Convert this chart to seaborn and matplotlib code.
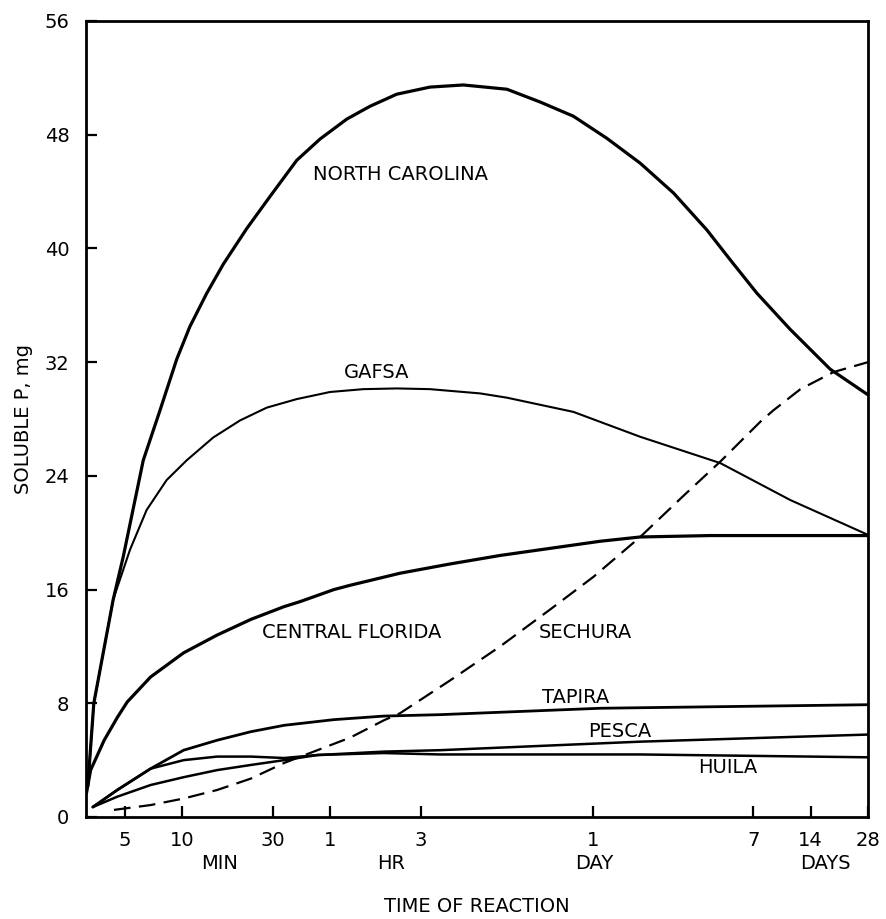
import numpy as np
import pandas as pd
import matplotlib
matplotlib.use("Agg")
import matplotlib.pyplot as plt
import matplotlib.transforms as mtransforms
import seaborn as sns

# ---- data (time in minutes, soluble P in mg) ----
t_nc = [3.2, 3.44, 4.35, 4.91, 6.26, 7.66, 9.38, 11.0, 13.5, 16.5, 21.9, 29.0, 40.1, 53.2,
        73.5, 97.3, 134.5, 201, 301, 510, 763, 1141, 1709, 2559, 3830, 5737, 7610, 10510,
        15740, 25540, 40320]
nc = [2.2, 8.0, 15.3, 18.3, 25.1, 28.6, 32.2, 34.5, 36.85, 38.9, 41.4, 43.65, 46.2, 47.7,
      49.1, 50.0, 50.85, 51.35, 51.5, 51.2, 50.3, 49.3, 47.75, 46.0, 43.9, 41.3, 39.2, 36.85,
      34.3, 31.5, 29.7]

t_gafsa = [3.2, 3.44, 4.35, 5.33, 6.52, 8.3, 10.6, 14.6, 20.2, 27.9, 40.1, 60, 89.8, 134.5,
           201, 369, 510, 1141, 2559, 6745, 15740, 40320]
gafsa = [2.2, 8.0, 15.3, 18.8, 21.6, 23.7, 25.1, 26.7, 27.9, 28.8, 29.4, 29.9, 30.1, 30.15,
         30.1, 29.8, 29.5, 28.5, 26.75, 24.9, 22.3, 19.85]

t_cf = [3.15, 3.31, 3.9, 4.57, 5.16, 6.84, 10.2, 15.3, 23.0, 34.4, 41.7, 62.9, 76.4, 140,
        256, 470, 861, 1580, 2560, 6000, 40320]
cf = [1.7, 3.3, 5.4, 7.0, 8.1, 9.85, 11.55, 12.8, 13.9, 14.8, 15.15, 16.0, 16.3, 17.15,
      17.8, 18.4, 18.9, 19.4, 19.7, 19.8, 19.8]

t_sech = [4.39, 6.84, 10.2, 15.3, 23.0, 34.4, 51.5, 77, 115, 140, 256, 470, 861, 1455,
          2560, 4324, 6745, 10940, 12800, 17800, 26550, 40320]
sech = [0.5, 0.84, 1.3, 1.9, 2.7, 3.8, 4.7, 5.6, 6.8, 7.3, 9.6, 12.0, 14.6, 16.9,
        19.7, 22.6, 25.0, 27.8, 28.6, 30.1, 31.3, 32.0]

t_tap = [3.4, 4.57, 6.84, 10.2, 15.3, 23.0, 34.4, 62.9, 115, 227, 1580, 40320]
tap = [0.7, 1.9, 3.4, 4.7, 5.4, 6.0, 6.45, 6.85, 7.1, 7.2, 7.65, 7.9]

t_pesca = [3.4, 4.57, 6.84, 10.2, 15.3, 23.0, 34.4, 51.5, 115, 227, 2560, 40320]
pesca = [0.7, 1.43, 2.25, 2.8, 3.3, 3.66, 4.0, 4.36, 4.6, 4.7, 5.3, 5.8]

t_huila = [3.4, 4.57, 6.84, 10.2, 15.3, 23.0, 34.4, 51.5, 115, 227, 2560, 40320]
huila = [0.7, 1.9, 3.4, 4.0, 4.25, 4.25, 4.15, 4.36, 4.5, 4.4, 4.4, 4.2]

x_ticks = [5, 10, 30, 60, 180, 1440, 10080, 20160, 40320]
x_ticklabels = ["5", "10", "30", "1", "3", "1", "7", "14", "28"]
y_ticks = [0, 8, 16, 24, 32, 40, 48, 56]

unit_labels = ["MIN", "HR", "DAY", "DAYS"]
unit_x = [15.7, 126, 1466, 24000]

series = [
    ("NORTH CAROLINA", t_nc, nc, 2.3, "-"),
    ("GAFSA", t_gafsa, gafsa, 1.5, "-"),
    ("CENTRAL FLORIDA", t_cf, cf, 2.3, "-"),
    ("SECHURA", t_sech, sech, 1.6, (0, (7.5, 3.8))),
    ("TAPIRA", t_tap, tap, 2.0, "-"),
    ("PESCA", t_pesca, pesca, 1.8, "-"),
    ("HUILA", t_huila, huila, 1.8, "-"),
]

sns.set_theme(style="ticks")
plt.rcParams["font.family"] = ["DejaVu Sans"]
plt.rcParams["text.color"] = "black"
plt.rcParams["axes.labelcolor"] = "black"
plt.rcParams["xtick.color"] = "black"
plt.rcParams["ytick.color"] = "black"

fig = plt.figure(figsize=(8.87, 9.19), dpi=100)
ax = fig.add_axes([86 / 887, 1 - 817 / 919, (868 - 86) / 887, (817 - 21) / 919])

for name, tx, vy, lw, ls in series:
    df = pd.DataFrame({"t": tx, "p": vy})
    sns.lineplot(data=df, x="t", y="p", ax=ax, color="black", linewidth=lw,
                 linestyle=ls, sort=False, estimator=None,
                 solid_joinstyle="round", solid_capstyle="round")

ax.set_xscale("log")
ax.set_xlim(3.13, 40320)
ax.set_ylim(0, 56)

ax.set_xticks(x_ticks)
ax.set_xticklabels(x_ticklabels)
ax.xaxis.set_minor_locator(matplotlib.ticker.NullLocator())
ax.set_yticks(y_ticks)
ax.set_yticklabels([str(v) for v in y_ticks])

ax.tick_params(axis="both", direction="in", length=8, width=1.6, labelsize=14,
               colors="black")
ax.tick_params(axis="x", pad=10)
ax.tick_params(axis="y", pad=12)

for sp in ax.spines.values():
    sp.set_visible(True)
    sp.set_linewidth(2.0)
    sp.set_color("black")

ax.set_xlabel("TIME OF REACTION", fontsize=14, labelpad=34, color="black")
ax.set_ylabel("SOLUBLE P, mg", fontsize=14, labelpad=8, color="black")

trans = mtransforms.blended_transform_factory(ax.transData, ax.transAxes)
for lab, xv in zip(unit_labels, unit_x):
    ax.text(xv, -0.058, lab, transform=trans, ha="center", va="center",
            fontsize=14, color="black")

label_fs = 14
labels = [("NORTH CAROLINA", 140, 45.2), ("GAFSA", 105, 31.3),
          ("CENTRAL FLORIDA", 78, 13.0), ("SECHURA", 1315, 13.0),
          ("TAPIRA", 1178, 8.4), ("PESCA", 2010, 6.0), ("HUILA", 7430, 3.45)]
for txt, lx, ly in labels:
    ax.text(lx, ly, txt, ha="center", va="center", fontsize=label_fs, color="black")

ax.grid(False)
fig.savefig("out.png", dpi=100, facecolor="white")
